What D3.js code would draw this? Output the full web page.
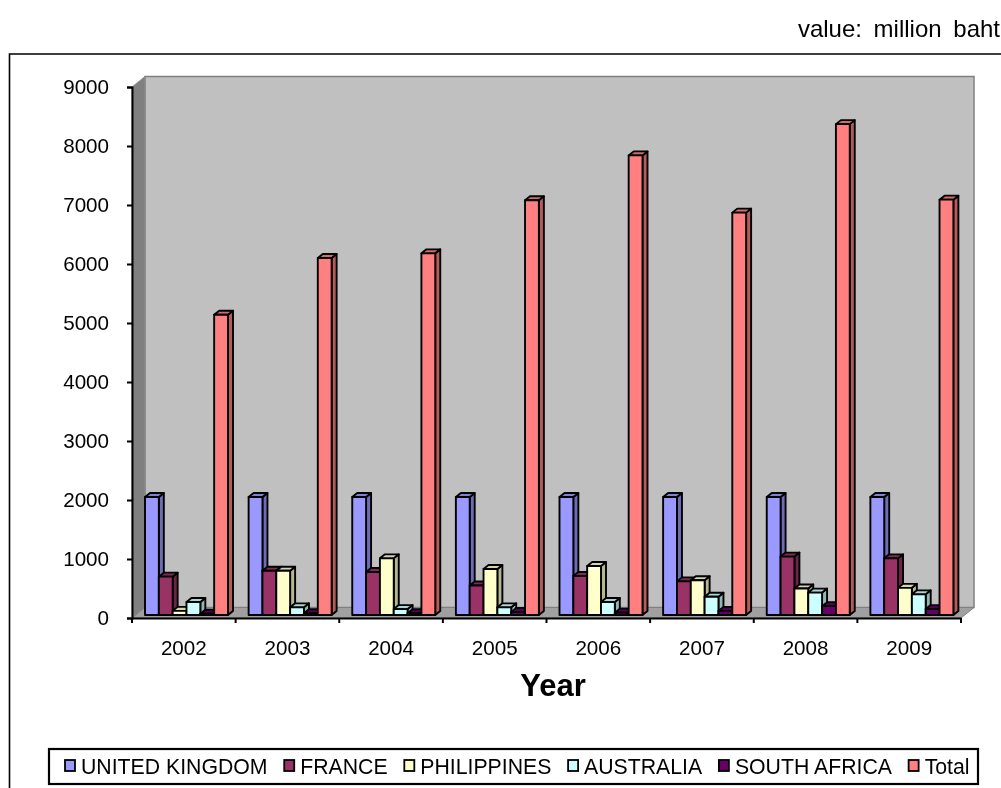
<!DOCTYPE html>
<html><head><meta charset="utf-8">
<script src="https://cdn.jsdelivr.net/npm/d3@7"></script>
<style>html,body{margin:0;background:#fff}svg{display:block;filter:blur(0.35px)}text{font-family:"Liberation Sans",Arial,sans-serif;fill:#000}</style>
</head><body><svg id="c" width="1001" height="788"></svg>
<script>
const years=["2002","2003","2004","2005","2006","2007","2008","2009"];
const seriesNames=["UNITED KINGDOM","FRANCE","PHILIPPINES","AUSTRALIA","SOUTH AFRICA","Total"];
const unitedKingdom=[2000,2000,2000,2000,2000,2000,2000,2000];
const france=[650,750,730,500,660,570,990,960];
const philippines=[70,750,960,780,830,590,450,460];
const australia=[220,130,100,130,220,310,380,350];
const southAfrica=[20,30,30,50,40,70,150,100];
const total=[5090,6050,6130,7030,7790,6820,8320,7040];
const tickValues=[0,1000,2000,3000,4000,5000,6000,7000,8000,9000];
const seriesValues=[unitedKingdom,france,philippines,australia,southAfrica,total];
const frontColors=["#9999ff","#993366","#ffffcc","#ccffff","#660066","#ff8080"];

const svg=d3.select("#c");
const L=132,R=961,Y0=618,Y9=87,DX=13,DY=-10.5,bd=5,bh=4,shift=3;
const y=d3.scaleLinear().domain([0,9000]).range([Y0,Y9]);
const x=d3.scaleBand().domain(years).range([L,R]);
const xs=d3.scaleBand().domain(seriesNames).range([10.3,93.3]);
const poly=p=>p.map(q=>q.join(",")).join(" ");

// frame
svg.append("path").attr("d",`M9.5 788V54H1001`).attr("fill","none").attr("stroke","#000").attr("stroke-width",1.6);
// walls
svg.append("polygon").attr("points",poly([[L+DX,Y9+DY],[R+DX,Y9+DY],[R+DX,Y0+DY],[L+DX,Y0+DY]])).attr("fill","#c0c0c0").attr("stroke","#808080").attr("stroke-width",1.5);
svg.append("polygon").attr("points",poly([[L,Y9],[L+DX,Y9+DY],[L+DX,Y0+DY],[L,Y0]])).attr("fill","#808080").attr("stroke","#8c8c8c");
svg.append("polygon").attr("points",poly([[L,Y0],[L+DX,Y0+DY],[R+DX,Y0+DY],[R,Y0]])).attr("fill","#a0a0a0").attr("stroke","#808080");

// bars
const g=svg.append("g").attr("stroke","#000").attr("stroke-width",1.9).attr("stroke-linejoin","round");
years.forEach((yr,i)=>{
  seriesNames.forEach((s,j)=>{
    const v=seriesValues[j][i], c=d3.color(frontColors[j]);
    const x0=x(yr)+xs(s)+shift-0.3, w=xs.bandwidth(), base=y(0)-shift, top=y(v)-shift;
    const b=g.append("g");
    b.append("polygon").attr("points",poly([[x0+w,top],[x0+w+bd,top-bh],[x0+w+bd,base-bh],[x0+w,base]])).attr("fill",c.darker(0.95));
    b.append("polygon").attr("points",poly([[x0,top],[x0+bd,top-bh],[x0+w+bd,top-bh],[x0+w,top]])).attr("fill",c.darker(0.5));
    b.append("rect").attr("x",x0).attr("y",top).attr("width",w).attr("height",base-top).attr("fill",frontColors[j]);
  });
});

// y axis
const ya=svg.append("g").attr("transform",`translate(${L},0)`).call(d3.axisLeft(y).tickValues(tickValues).tickFormat(d3.format("d")).tickSize(5).tickPadding(18));
ya.selectAll("text").attr("font-size",20.6);
ya.selectAll("line,path").attr("stroke","#000").attr("stroke-width",2);
// x axis
const xa=svg.append("g").attr("transform",`translate(0,${Y0})`).call(d3.axisBottom(x).tickSize(0).tickPadding(22));
xa.selectAll("text").attr("font-size",20.6);
xa.select("path").attr("stroke","#000").attr("stroke-width",2);
const edge=d3.range(years.length+1).map(i=>L+i*x.step());
xa.selectAll(".edge").data(edge).join("line").attr("class","edge").attr("x1",d=>d).attr("x2",d=>d).attr("y1",0).attr("y2",5).attr("stroke","#000").attr("stroke-width",2);

svg.append("text").attr("x",553).attr("y",696).attr("text-anchor","middle").attr("font-size",31).attr("font-weight","bold").text("Year");
svg.append("text").attr("x",1000).attr("y",37).attr("text-anchor","end").attr("font-size",24).attr("word-spacing",5).text("value: million baht");

// legend
svg.append("rect").attr("x",49).attr("y",749).attr("width",929).attr("height",35).attr("fill","#fff").attr("stroke","#000").attr("stroke-width",2.2);
let lx=65;
seriesNames.forEach((s,j)=>{
  svg.append("rect").attr("x",lx).attr("y",760).attr("width",10).attr("height",11).attr("fill",frontColors[j]).attr("stroke","#000").attr("stroke-width",1.8);
  const t=svg.append("text").attr("x",lx+16).attr("y",773.5).attr("font-size",21.25).text(s);
  lx+=16+t.node().getComputedTextLength()+16.7;
});
</script></body></html>
